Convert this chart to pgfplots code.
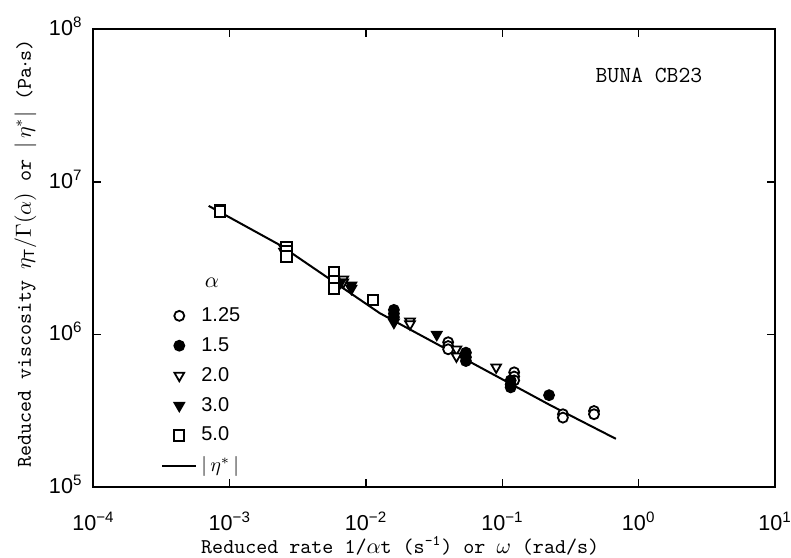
\documentclass[border=0pt]{standalone}
\usepackage{fontspec}
\setmainfont{Liberation Sans}
\usepackage{pgfplots}
\pgfplotsset{compat=1.18}
\begin{document}
\begin{tikzpicture}
\begin{axis}[
  at={(0pt,0pt)}, anchor=south west,
  xmode=log, ymode=log,
  scale only axis, width=340.75pt, height=228.75pt,
  xmin=1e-4, xmax=10, ymin=1e5, ymax=1e8,
  xtick={1e-4,1e-3,1e-2,1e-1,1,10},
  xticklabels={10\textsuperscript{−4},10\textsuperscript{−3},10\textsuperscript{−2},10\textsuperscript{−1},10\textsuperscript{0},10\textsuperscript{1}},
  ytick={1e5,1e6,1e7,1e8},
  yticklabels={10\textsuperscript{5},10\textsuperscript{6},10\textsuperscript{7},10\textsuperscript{8}},
  xminorticks=false, yminorticks=false,
  xticklabel style={font=\fontsize{10.8}{13}\selectfont, inner sep=0pt, yshift=-12.5pt},
  yticklabel style={font=\fontsize{10.8}{13}\selectfont, xshift=-2pt, yshift=1.5pt},
  axis line style={line width=1pt},
  major tick length=4pt,
  every tick/.style={black, line width=0.7pt},
  tick align=inside,
  xlabel={Reduced rate 1/$\alpha$t (s\textsuperscript{-1}) or $\omega$ (rad/s)},
  ylabel={Reduced viscosity $\eta_{\mathrm{T}}/\Gamma(\alpha)$ or $|\,\eta^*|$ (Pa$\cdot$s)},
  xlabel style={font=\ttfamily\fontsize{10.5}{12}\selectfont, inner sep=0pt, at={(axis description cs:0.45,-0.128)}, anchor=center},
  ylabel style={font=\ttfamily\fontsize{10.5}{12}\selectfont, at={(axis description cs:-0.1,0.51)}, anchor=center},
  legend style={at={(0.09,0.411)}, anchor=north west, draw=none, fill=none,
    font=\fontsize{10}{12}\selectfont, row sep=2.5pt},
  legend cell align=left,
]
% alpha = 1.25 (open circle)
\addplot[only marks, mark=*, mark size=2.5pt, mark options={fill=white, draw=black, line width=0.9pt}] coordinates {
 (4.0e-2,8.9e5) (4.0e-2,8.4e5) (4.0e-2,8.0e5)
 (0.122,5.65e5) (0.122,5.3e5) (0.122,5.0e5)
 (0.278,3.0e5) (0.278,2.85e5)
 (0.47,3.15e5) (0.47,3.0e5)
};
\addlegendentry{1.25}
% alpha = 1.5 (filled circle)
\addplot[only marks, mark=*, mark size=2.5pt, mark options={fill=black, draw=black, line width=0.9pt}] coordinates {
 (1.6e-2,1.45e6) (1.6e-2,1.37e6) (1.6e-2,1.3e6)
 (5.4e-2,7.6e5) (5.4e-2,7.1e5) (5.4e-2,6.7e5)
 (0.115,5.0e5) (0.115,4.7e5) (0.115,4.5e5)
 (0.22,4.0e5)
};
\addlegendentry{1.5}
% alpha = 2.0 (open triangle down)
\addplot[only marks, mark=triangle*, mark size=2.8pt, mark options={rotate=180, fill=white, draw=black, line width=0.9pt}] coordinates {
 (2.6e-3,3.5e6) (6.8e-3,2.3e6) (6.8e-3,2.2e6)
 (2.1e-2,1.22e6) (2.1e-2,1.17e6)
 (4.6e-2,8.0e5) (4.6e-2,7.2e5)
 (9.0e-2,6.1e5)
};
\addlegendentry{2.0}
% alpha = 3.0 (filled triangle down)
\addplot[only marks, mark=triangle*, mark size=2.8pt, mark options={rotate=180, fill=black, draw=black, line width=0.9pt}] coordinates {
 (2.5e-3,3.7e6) (2.5e-3,3.5e6)
 (6.5e-3,2.2e6) (7.8e-3,2.1e6) (7.8e-3,2.0e6)
 (1.6e-2,1.2e6) (3.3e-2,1.0e6)
};
\addlegendentry{3.0}
% alpha = 5.0 (open square)
\addplot[only marks, mark=square*, mark size=2.6pt, mark options={fill=white, draw=black, line width=1pt}] coordinates {
 (8.5e-4,6.5e6) (8.5e-4,6.4e6)
 (2.6e-3,3.75e6) (2.6e-3,3.5e6) (2.6e-3,3.25e6)
 (5.8e-3,2.55e6) (5.8e-3,2.25e6) (5.8e-3,2.0e6)
 (1.12e-2,1.68e6)
};
\addlegendentry{5.0}
% |eta*| line
\addplot[black, line width=1pt, no marks] coordinates {
 (7.0e-4,6.97e6) (2.33e-3,3.86e6) (1.26e-2,1.38e6) (0.223,3.45e5) (0.68,2.07e5)
};
\addlegendentry{$|\,\eta^*\,|$}
\node[anchor=west, font=\fontsize{11}{13}\selectfont] at (rel axis cs:0.153,0.446) {$\alpha$};
\node[font=\ttfamily\fontsize{11.5}{13}\selectfont] at (rel axis cs:0.815,0.90) {BUNA CB23};
\end{axis}
\pgfresetboundingbox
\path ([shift={(-46.75pt,-35pt)}]current axis.south west) rectangle ([shift={(8pt,14.75pt)}]current axis.north east);
\end{tikzpicture}
\end{document}
